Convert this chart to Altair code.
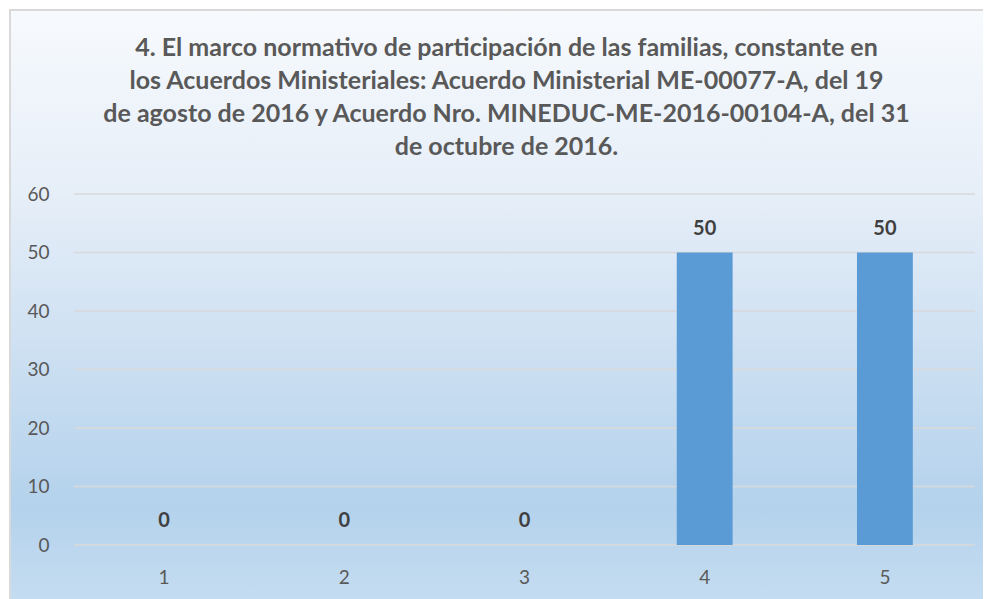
import altair as alt
import pandas as pd

categories = ["1", "2", "3", "4", "5"]
values = [0, 0, 0, 50, 50]
y_ticks = [0, 10, 20, 30, 40, 50, 60]
title_lines = [
    "4. El marco normativo de participación de las familias, constante en",
    "los Acuerdos Ministeriales: Acuerdo Ministerial ME-00077-A, del 19",
    "de agosto de 2016 y Acuerdo Nro. MINEDUC-ME-2016-00104-A, del 31",
    "de octubre de 2016.",
]

W, H = 901, 351
PAD = {"left": 66, "top": 186, "right": 8, "bottom": 54}

df = pd.DataFrame({"cat": categories, "val": values})
grid_df = pd.DataFrame({"v": y_ticks})

xscale = alt.Scale(domain=categories, paddingInner=0.69, paddingOuter=0.345)
yscale = alt.Scale(domain=[0, 60], nice=False)

grad = alt.LinearGradient(
    gradient="linear",
    x1=0, x2=0, y1=0, y2=1,
    stops=[
        alt.GradientStop(color="#F7FAFD", offset=0),
        alt.GradientStop(color="#E6EEF8", offset=0.30),
        alt.GradientStop(color="#B4D2EC", offset=0.81),
        alt.GradientStop(color="#C9DFF2", offset=1),
    ],
)

bg = alt.Chart(pd.DataFrame({"a": [0]})).mark_rect(
    fill=grad, stroke="#D9D9D9", strokeWidth=2
).encode(
    x=alt.value(-64), x2=alt.value(940), y=alt.value(-184), y2=alt.value(430)
)

grid = alt.Chart(grid_df).mark_rule(color="#D9D9D9", strokeWidth=1.5).encode(
    y=alt.Y("v:Q", scale=yscale),
    x=alt.value(0), x2=alt.value(W),
)

bars = alt.Chart(df).mark_bar(color="#5B9BD5").encode(
    x=alt.X("cat:N", scale=xscale, sort=categories,
            axis=alt.Axis(title=None, labelAngle=0, domain=False, ticks=False,
                          labelPadding=23, zindex=1)),
    y=alt.Y("val:Q", scale=yscale,
            axis=alt.Axis(title=None, values=y_ticks, domain=False, ticks=False,
                          grid=False, labelPadding=25, zindex=1)),
)

labels = alt.Chart(df).mark_text(
    font="Lato", fontWeight="bold", fontSize=20, color="#404040",
    baseline="alphabetic", dy=-18
).encode(
    x=alt.X("cat:N", scale=xscale, sort=categories),
    y=alt.Y("val:Q", scale=yscale),
    text=alt.Text("val:Q"),
)

chart = alt.layer(bg, grid, bars, labels).properties(
    width=W, height=H,
    autosize=alt.AutoSizeParams(type="none"),
    padding=PAD,
    background="white",
    title=alt.TitleParams(
        text=title_lines, font="Lato", fontSize=25, fontWeight="bold",
        color="#595959", anchor="middle", lineHeight=33, offset=-151, dx=-18,
    ),
).configure_view(stroke=None).configure_axis(
    labelFont="Lato", labelFontSize=19, labelColor="#595959"
)

chart.save("out.html", embed_options={"renderer": "svg", "actions": False})
